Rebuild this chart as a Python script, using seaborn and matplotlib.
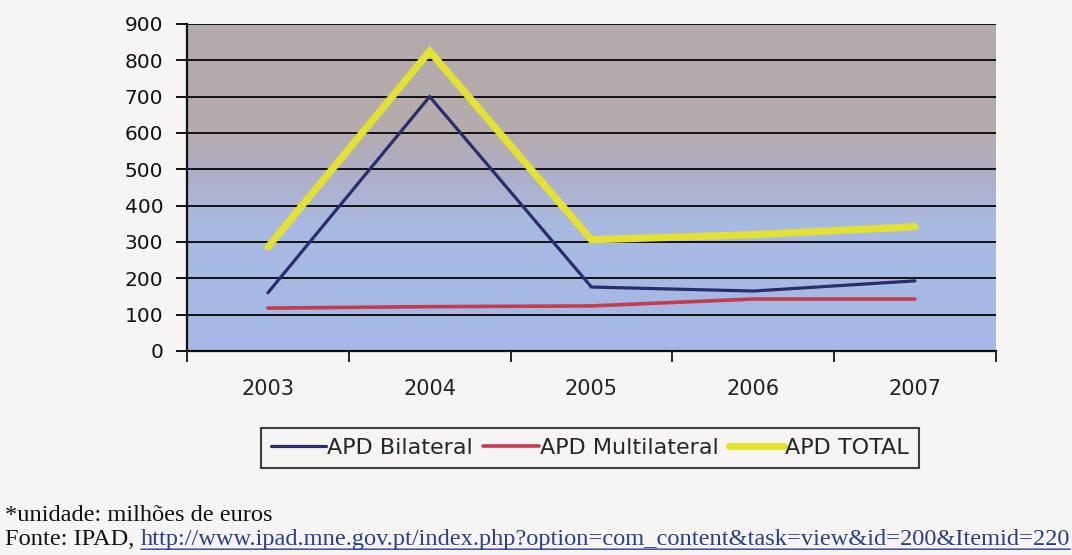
import numpy as np
import pandas as pd
import seaborn as sns
import matplotlib.pyplot as plt
from matplotlib.colors import LinearSegmentedColormap

years = [2003, 2004, 2005, 2006, 2007]
apd_bilateral = [160, 700, 176, 165, 193]
apd_multilateral = [118, 122, 124, 143, 143]
apd_total = [286, 825, 306, 320, 342]
series_names = ['APD Bilateral', 'APD Multilateral', 'APD TOTAL']

df = pd.DataFrame({
    'ano': years * 3,
    'valor': apd_bilateral + apd_multilateral + apd_total,
    'serie': [s for s in series_names for _ in years],
})
df['pos'] = df['ano'].map({y: i for i, y in enumerate(years)})

sns.set_style('white')
plt.rcParams['font.family'] = ['DejaVu Sans']

fig = plt.figure(figsize=(10.72, 5.55), dpi=100)
fig.patch.set_facecolor('#f6f5f3')
ax = fig.add_axes([0.1744, 0.3676, 0.7546, 0.5892])

# gradient background of the plot area
cmap = LinearSegmentedColormap.from_list(
    'bg', [(0, '#a5b9e7'), (0.38, '#a9bbe2'), (0.55, '#b0aec6'), (0.68, '#b5acad'), (1, '#b3abab')])
grad = np.linspace(0, 1, 256).reshape(-1, 1)
ax.imshow(grad, cmap=cmap, aspect='auto', origin='lower', extent=[0, 1, 0, 1],
          transform=ax.transAxes, zorder=0)

palette = {'APD Bilateral': '#2a2d6b', 'APD Multilateral': '#c43d4c', 'APD TOTAL': '#e3e133'}
sns.lineplot(data=df, x='pos', y='valor', hue='serie', palette=palette, ax=ax,
             hue_order=series_names, zorder=3, legend=True)
lws = {'APD Bilateral': 2.3, 'APD Multilateral': 2.6, 'APD TOTAL': 5.2}
for line, name in zip(ax.get_lines(), series_names):
    line.set_linewidth(lws[name])
    line.set_solid_joinstyle('miter')

ax.set_xlim(-0.5, 4.5)
ax.set_ylim(0, 900)
ax.set_yticks(range(0, 1000, 100))
ax.set_xticks(np.arange(-0.5, 5, 1))
ax.set_xticklabels([])
ax.set_xticks(range(len(years)), minor=True)
ax.set_xticklabels([str(y) for y in years], minor=True)
ax.grid(axis='y', color='#111111', linewidth=1.4, zorder=1)
ax.set_axisbelow(False)
ax.set_xlabel('')
ax.set_ylabel('')
for side in ['top', 'right']:
    ax.spines[side].set_visible(False)
for side in ['left', 'bottom']:
    ax.spines[side].set_color('#111111')
    ax.spines[side].set_linewidth(1.6)
ax.tick_params(axis='y', which='major', direction='out', length=8, width=1.4,
               labelsize=14.5, colors='#111111', pad=9, left=True)
ax.tick_params(axis='x', which='major', direction='out', length=8, width=1.4, bottom=True)
ax.tick_params(axis='x', which='minor', length=0, labelsize=15, colors='#222222', pad=20)

handles, labels = ax.get_legend_handles_labels()
for h in handles:
    h.set_linewidth(lws[h.get_label()])
ax.legend(handles, labels, loc='center', bbox_to_anchor=(0.498, -0.297), ncol=3,
          frameon=True, fancybox=False, edgecolor='#111111', fontsize=16,
          handlelength=2.5, handletextpad=0.05, columnspacing=0.45,
          borderpad=0.45, borderaxespad=0, facecolor='#f6f5f3')
ax.get_legend().get_frame().set_linewidth(1.5)

fig.text(0.005, 0.061, '*unidade: milhões de euros', family='Liberation Serif',
         fontsize=17.6, color='#111111', va='baseline')
t1 = fig.text(0.005, 0.018, 'Fonte: IPAD, ', family='Liberation Serif',
              fontsize=17.6, color='#111111', va='baseline')
fig.canvas.draw()
bb = t1.get_window_extent()
x_link = bb.x1 / fig.bbox.width
t2 = fig.text(x_link, 0.018,
              'http://www.ipad.mne.gov.pt/index.php?option=com_content&task=view&id=200&Itemid=220',
              family='Liberation Serif', fontsize=17.6, color='#2a3f8f', va='baseline')
fig.canvas.draw()
x_end = t2.get_window_extent().x1 / fig.bbox.width
ax.annotate('', xy=(x_end, 0.0105), xytext=(x_link, 0.0105), xycoords='figure fraction',
            arrowprops=dict(arrowstyle='-', color='#2a3f8f', lw=1, shrinkA=0, shrinkB=0))

fig.savefig('out.png', dpi=100, facecolor=fig.get_facecolor())
